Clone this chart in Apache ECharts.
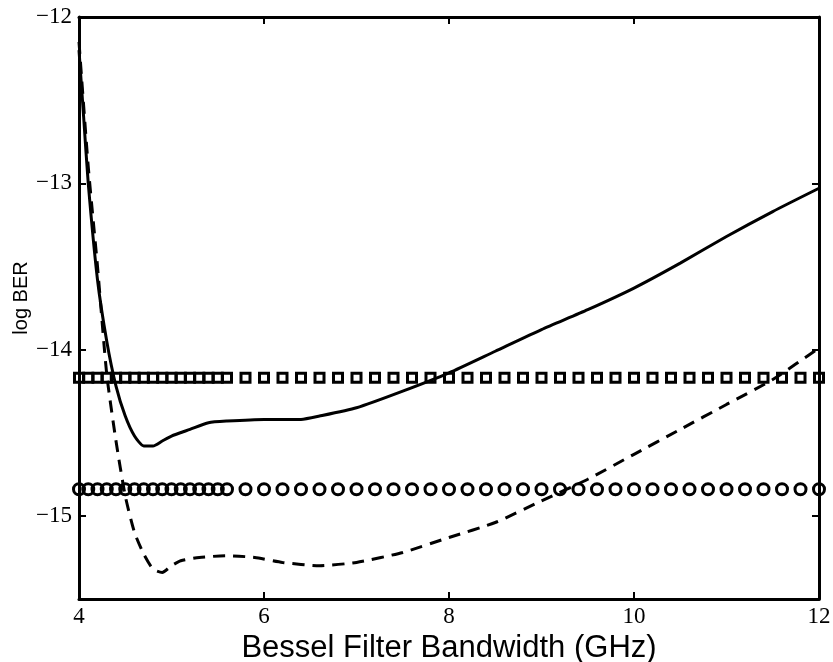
<!DOCTYPE html>
<html>
<head>
<meta charset="utf-8">
<script src="https://cdn.jsdelivr.net/npm/echarts@6/dist/echarts.min.js"></script>
<style>
  html, body { margin: 0; padding: 0; background: #fff; }
  #chart { width: 833px; height: 662px; }
</style>
</head>
<body>
<div id="chart"></div>
<script>
// solid curve
var solidX = [4.0, 4.05, 4.1, 4.2, 4.3, 4.4, 4.5, 4.6, 4.7, 4.8, 4.9, 5.0, 5.2, 5.4, 5.6, 6.0, 6.4, 6.6, 7.0, 7.5, 8.0, 8.5, 9.0, 9.5, 10.0, 10.5, 11.0, 11.5, 12.0];
var solidY = [-12.2, -12.6, -13.0, -13.58, -13.95, -14.22, -14.40, -14.52, -14.58, -14.58, -14.55, -14.52, -14.48, -14.44, -14.43, -14.42, -14.42, -14.40, -14.35, -14.25, -14.14, -14.01, -13.88, -13.76, -13.63, -13.48, -13.32, -13.17, -13.03];

// dashed curve
var dashX = [4.0, 4.1, 4.2, 4.3, 4.4, 4.5, 4.6, 4.7, 4.8, 4.9, 5.0, 5.1, 5.3, 5.6, 5.9, 6.2, 6.6, 7.0, 7.5, 8.0, 8.5, 9.0, 9.5, 10.0, 10.5, 11.0, 11.5, 12.0];
var dashY = [-12.15, -12.9, -13.5, -14.15, -14.55, -14.88, -15.1, -15.23, -15.32, -15.34, -15.30, -15.27, -15.25, -15.24, -15.25, -15.28, -15.30, -15.28, -15.22, -15.13, -15.04, -14.91, -14.78, -14.63, -14.48, -14.33, -14.18, -13.99];

// reference levels (squares / circles)
var levelX = [4.0, 4.1, 4.2, 4.3, 4.4, 4.5, 4.6, 4.7, 4.8, 4.9, 5.0, 5.1, 5.2, 5.3, 5.4, 5.5, 5.6,
  5.8, 6.0, 6.2, 6.4, 6.6, 6.8, 7.0, 7.2, 7.4, 7.6, 7.8, 8.0, 8.2, 8.4, 8.6, 8.8, 9.0, 9.2, 9.4, 9.6, 9.8,
  10.0, 10.2, 10.4, 10.6, 10.8, 11.0, 11.2, 11.4, 11.6, 11.8, 12.0];
var squareLevel = -14.17;
var circleLevel = -14.84;

var xTicks = [4, 6, 8, 10, 12];
var yTicks = [-15, -14, -13, -12];

function pairs(xs, ys) {
  var out = [];
  for (var i = 0; i < xs.length; i++) {
    out.push([xs[i], ys[i]]);
  }
  return out;
}

function level(xs, y) {
  var out = [];
  for (var i = 0; i < xs.length; i++) {
    out.push([xs[i], y]);
  }
  return out;
}

var serif = 'Liberation Serif';
var sans = 'Liberation Sans';

var myChart = echarts.init(document.getElementById('chart'));

myChart.setOption({
  animation: false,
  backgroundColor: '#fff',
  grid: { left: 79, right: 14, top: 17, bottom: 63, outerBoundsMode: 'none' },
  xAxis: [{
    type: 'value',
    min: 4,
    max: 12,
    position: 'bottom',
    name: 'Bessel Filter Bandwidth (GHz)',
    nameLocation: 'middle',
    nameGap: 24,
    nameTextStyle: { fontFamily: sans, fontSize: 31, color: '#000' },
    axisLine: { onZero: false, lineStyle: { color: '#000', width: 3 } },
    axisTick: { inside: true, length: 7, customValues: xTicks, lineStyle: { color: '#000', width: 2 } },
    axisLabel: { customValues: xTicks, margin: 6, fontFamily: serif, fontSize: 23, color: '#000' },
    splitLine: { show: false }
  }, {
    type: 'value',
    min: 4,
    max: 12,
    position: 'top',
    axisLine: { onZero: false, lineStyle: { color: '#000', width: 3 } },
    axisTick: { inside: true, length: 7, customValues: xTicks, lineStyle: { color: '#000', width: 2 } },
    axisLabel: { show: false },
    splitLine: { show: false }
  }],
  yAxis: [{
    type: 'value',
    min: -15.5,
    max: -12,
    position: 'left',
    name: 'log BER',
    nameLocation: 'middle',
    nameRotate: 90,
    nameGap: 48,
    nameMoveOverlap: false,
    nameTextStyle: { fontFamily: sans, fontSize: 20, color: '#000', padding: [0, 0, 0, 20] },
    axisLine: { onZero: false, lineStyle: { color: '#000', width: 3 } },
    axisTick: { inside: true, length: 7, customValues: yTicks, lineStyle: { color: '#000', width: 2 } },
    axisLabel: {
      customValues: yTicks,
      margin: 7,
      fontFamily: serif,
      fontSize: 23,
      color: '#000',
      formatter: function (v) {
        return String(v).replace('-', '\u2212');
      }
    },
    splitLine: { show: false }
  }, {
    type: 'value',
    min: -15.5,
    max: -12,
    position: 'right',
    axisLine: { onZero: false, lineStyle: { color: '#000', width: 3 } },
    axisTick: { inside: true, length: 7, customValues: yTicks, lineStyle: { color: '#000', width: 2 } },
    axisLabel: { show: false },
    splitLine: { show: false }
  }],
  series: [{
    name: 'solid',
    type: 'line',
    smooth: 0.2,
    showSymbol: false,
    lineStyle: { color: '#000', width: 3 },
    data: pairs(solidX, solidY)
  }, {
    name: 'dashed',
    type: 'line',
    smooth: 0.2,
    showSymbol: false,
    lineStyle: { color: '#000', width: 3, type: [12, 8] },
    data: pairs(dashX, dashY)
  }, {
    name: 'squares',
    type: 'scatter',
    symbol: 'rect',
    symbolSize: 9,
    clip: false,
    itemStyle: { color: 'rgba(0,0,0,0)', borderColor: '#000', borderWidth: 3, opacity: 1 },
    data: level(levelX, squareLevel)
  }, {
    name: 'circles',
    type: 'scatter',
    symbol: 'circle',
    symbolSize: 11,
    clip: false,
    itemStyle: { color: 'rgba(0,0,0,0)', borderColor: '#000', borderWidth: 3, opacity: 1 },
    data: level(levelX, circleLevel)
  }]
});
</script>
</body>
</html>
